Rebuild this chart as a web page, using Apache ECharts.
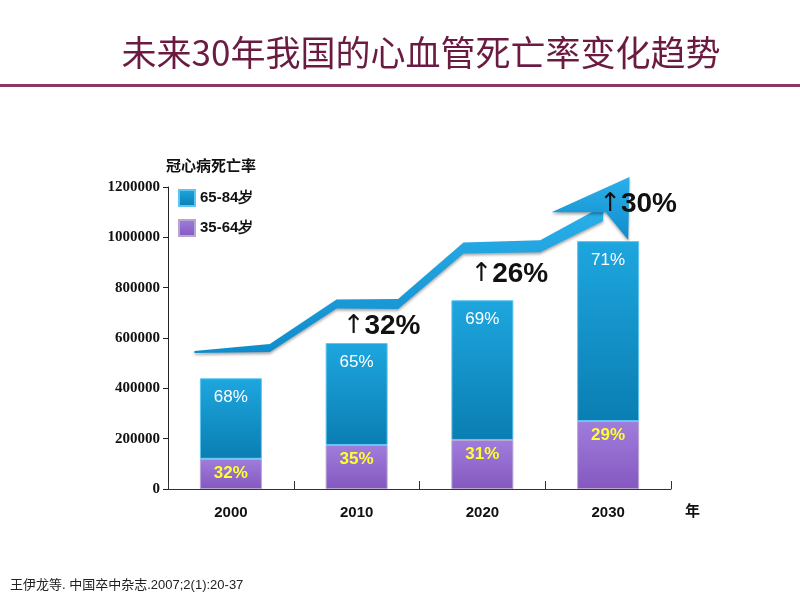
<!DOCTYPE html>
<html><head><meta charset="utf-8">
<script src="https://cdn.jsdelivr.net/npm/echarts@6/dist/echarts.min.js"></script>
<style>html,body{margin:0;padding:0;background:#fff}#c{width:800px;height:600px}</style>
</head><body><div id="c"></div>
<script>
// ---- data ----
const categories = ['2000', '2010', '2020', '2030'];
const seriesNames = ['65-84岁', '35-64岁'];
const age3564 = [120000, 175000, 195000, 270000];
const age6584 = [320000, 405000, 555000, 715000];
const pct3564 = ['32%', '35%', '31%', '29%'];
const pct6584 = ['68%', '65%', '69%', '71%'];
const growth = ['', '32%', '26%', '30%'];
const yMin = 0, yMax = 1200000, yInterval = 200000;
// decorative trend arrow path (x in category units, y in axis values)
const arrowX = [-0.29, 0.31, 0.84, 1.33, 1.85, 2.46, 2.96];
const arrowY = [544000, 560000, 735000, 735000, 958000, 965000, 1095000];
const arrowHeadX = [3.17, 3.16, 2.98, 2.55];
const arrowHeadY = [1240000, 989000, 1100000, 1100000];

const totals = categories.map((c, i) => age3564[i] + age6584[i]);
const arrowThick = [2, 8, 9, 10, 11, 12, 15];
const growthOffset = [[0, 0], [-14, -17], [-12, -26], [-9, -37]];

const chart = echarts.init(document.getElementById('c'), null, {renderer: 'canvas'});
const SANS = 'Liberation Sans, Arial, sans-serif';

const option = {
  backgroundColor: '#fff',
  animation: false,
  title: [
    {text: '未来30年我国的心血管死亡率变化趋势', left: 416, top: 30, textAlign: 'center',
     textStyle: {fontFamily: 'Noto Sans CJK SC', fontSize: 35, fontWeight: 'normal', color: '#6b1b42'}},
    {text: '王伊龙等. 中国卒中杂志.2007;2(1):20-37', left: 5, top: 574,
     textStyle: {fontFamily: 'Liberation Sans, Noto Sans CJK SC, sans-serif', fontSize: 13, fontWeight: 'normal', color: '#222'}}
  ],
  graphic: [
    {type: 'rect', left: 0, top: 84, shape: {width: 800, height: 3}, style: {fill: '#8c3a62'}}
  ],
  legend: {
    data: seriesNames, orient: 'vertical', left: 173, top: 184, itemGap: 12,
    itemWidth: 16, itemHeight: 16, icon: 'rect',
    textStyle: {fontFamily: SANS, fontWeight: 'bold', fontSize: 15, color: '#111'}
  },
  grid: {left: 168, right: 129, top: 187, bottom: 111},
  xAxis: [
    {type: 'category', data: categories, name: '年', nameLocation: 'end', nameGap: 14,
     nameTextStyle: {fontFamily: 'Noto Sans CJK SC', fontWeight: 'bold', fontSize: 15, color: '#111', verticalAlign: 'top', padding: [14, 0, 0, 0]},
     axisLine: {lineStyle: {color: '#333', width: 1}},
     axisTick: {show: true, inside: true, length: 8, lineStyle: {color: '#333'}},
     axisLabel: {fontFamily: SANS, fontWeight: 'bold', fontSize: 15, color: '#111', margin: 16}},
    {type: 'value', min: -0.5, max: 3.5, show: false}
  ],
  yAxis: {
    type: 'value', min: yMin, max: yMax, interval: yInterval,
    name: '冠心病死亡率', nameLocation: 'end', nameGap: 14,
    nameTextStyle: {fontFamily: 'Noto Sans CJK SC', fontWeight: 'bold', fontSize: 15, color: '#111', align: 'left', verticalAlign: 'bottom', padding: [0, 0, 0, -2]},
    axisLine: {show: true, onZero: false, lineStyle: {color: '#222', width: 1}},
    axisTick: {show: true, length: 5, lineStyle: {color: '#222'}},
    splitLine: {show: false},
    axisLabel: {fontFamily: 'Liberation Serif, serif', fontWeight: 'bold', fontSize: 15, color: '#111', margin: 8,
      formatter: v => String(v)}
  },
  series: [
    {
      type: 'custom', xAxisIndex: 1, z: 1, silent: true,
      data: [[0, 0]],
      renderItem: function (params, api) {
        const top = [], bot = [];
        for (let i = 0; i < arrowX.length; i++) {
          const p = api.coord([arrowX[i], arrowY[i]]);
          const t = arrowThick[i] / 2;
          top.push([p[0], p[1] - t]);
          bot.push([p[0], p[1] + t]);
        }
        const shaft = top.concat(bot.reverse());
        const head = arrowHeadX.map((x, i) => api.coord([x, arrowHeadY[i]]));
        const fill = new echarts.graphic.LinearGradient(0, 0, 0, 1, [
          {offset: 0, color: '#2bb0ea'}, {offset: 1, color: '#0f8ccc'}]);
        const st = {fill: fill, shadowBlur: 3, shadowColor: 'rgba(0,0,0,0.35)', shadowOffsetY: 2};
        return {type: 'group', children: [
          {type: 'polygon', shape: {points: shaft}, style: st},
          {type: 'polygon', shape: {points: head}, style: st}
        ]};
      }
    },
    {
      name: '35-64岁', type: 'bar', stack: 'total', barWidth: 62, z: 2,
      data: age3564,
      itemStyle: {
        color: new echarts.graphic.LinearGradient(0, 0, 0, 1, [
          {offset: 0, color: '#a07ddc'}, {offset: 1, color: '#8558c0'}]),
        borderColor: '#b8a6d2', borderWidth: 1
      },
      label: {show: true, position: 'insideTop', distance: 6,
        formatter: p => pct3564[p.dataIndex],
        fontFamily: SANS, fontSize: 17, fontWeight: 'bold', color: '#ffff2e'}
    },
    {
      name: '65-84岁', type: 'bar', stack: 'total', barWidth: 62, z: 2,
      data: age6584,
      itemStyle: {
        color: new echarts.graphic.LinearGradient(0, 0, 0, 1, [
          {offset: 0, color: '#1ea6df'}, {offset: 1, color: '#0a7eb2'}]),
        borderColor: '#5ec6f0', borderWidth: 1
      },
      label: {show: true, position: 'insideTop', distance: 11,
        formatter: p => pct6584[p.dataIndex],
        fontFamily: SANS, fontSize: 17, color: '#fff'},
      markPoint: {
        symbol: 'circle', symbolSize: 1, itemStyle: {color: 'rgba(0,0,0,0)'}, z: 5,
        data: categories.map((c, i) => ({coord: [i, totals[i]], name: growth[i]})).filter(d => d.name !== ''),
        label: {
          show: true, position: 'inside', align: 'left', verticalAlign: 'middle',
          formatter: p => '{a|↑}{b|' + p.name + '}',
          rich: {
            a: {fontFamily: 'DejaVu Sans', fontSize: 26, color: '#111'},
            b: {fontFamily: SANS, fontWeight: 'bold', fontSize: 28, color: '#111'}
          }
        }
      }
    }
  ]
};
option.series[2].markPoint.data.forEach(d => {
  const i = d.coord[0];
  d.label = {offset: growthOffset[i]};
});
chart.setOption(option);
</script>
</body></html>
